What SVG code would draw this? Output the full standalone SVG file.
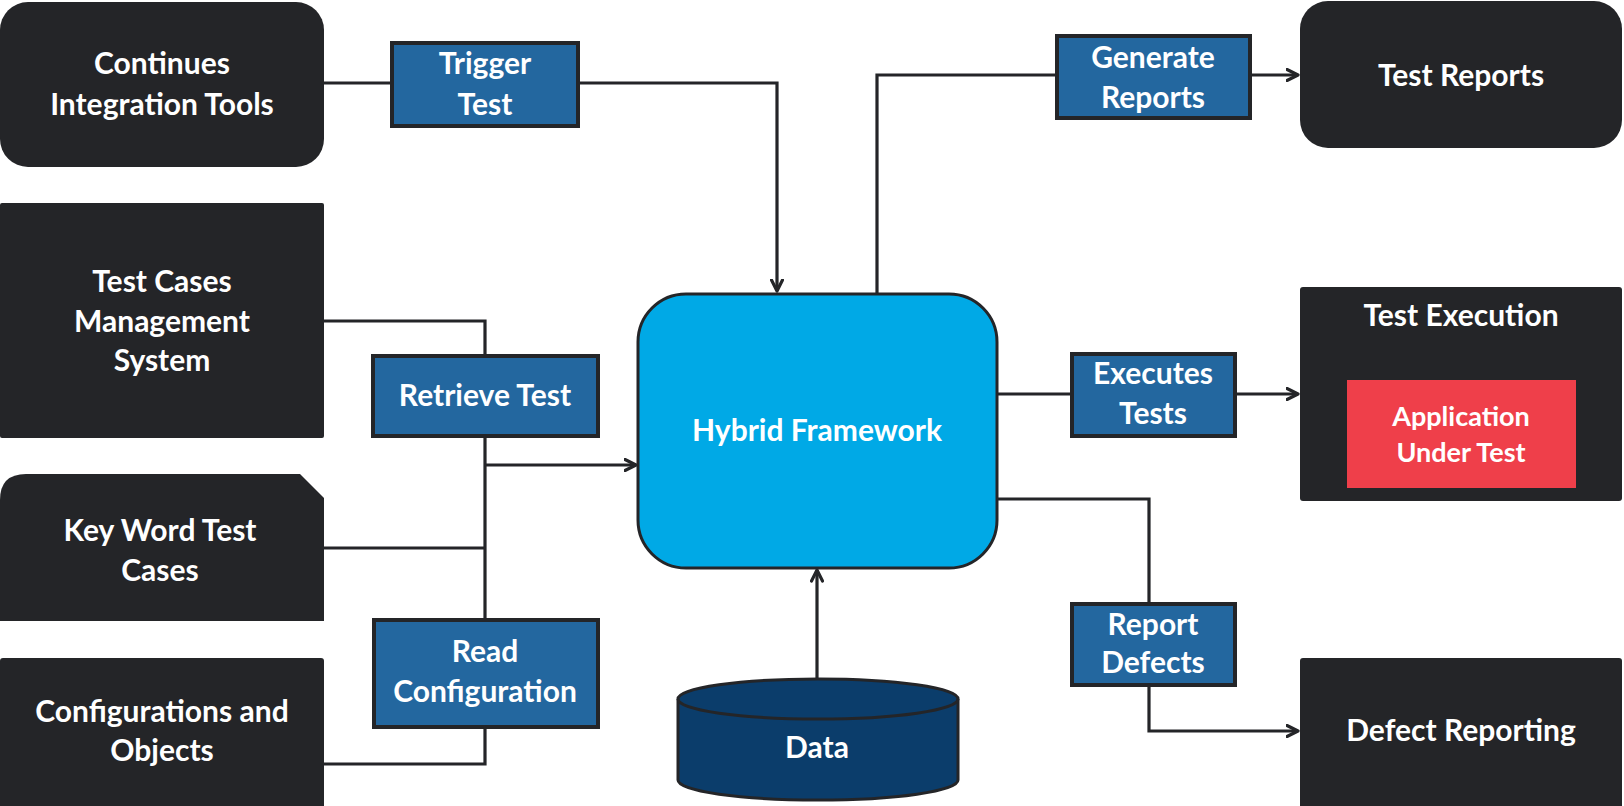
<svg xmlns="http://www.w3.org/2000/svg" width="1624" height="806" viewBox="0 0 1624 806">
<defs>
<marker id="arr" viewBox="0 0 14 14" refX="12.5" refY="7" markerWidth="14" markerHeight="14" markerUnits="userSpaceOnUse" orient="auto">
<path d="M1.5,1.5 L12.5,7 L1.5,12.5" fill="none" stroke="#242528" stroke-width="3.2" stroke-linecap="round" stroke-linejoin="round"/>
</marker>
<style>
.dark{fill:#242528;}
.lbl{fill:#23679F;stroke:#242528;stroke-width:4;}
.t{font-family:Lato,"Open Sans","Liberation Sans",sans-serif;font-weight:bold;font-size:30px;fill:#ffffff;text-anchor:middle;dominant-baseline:central;}
.s{font-size:27px;}
.c{fill:none;stroke:#242528;stroke-width:3.2;}
</style>
</defs>
<rect width="1624" height="806" fill="#ffffff"/>

<g id="connectors">
<polyline class="c" points="324,83 391,83"/>
<polyline class="c" points="578,83 777,83 777,291" marker-end="url(#arr)"/>
<polyline class="c" points="877,295 877,75 1056,75"/>
<polyline class="c" points="1250,75 1298,75" marker-end="url(#arr)"/>
<polyline class="c" points="324,321 485,321 485,355"/>
<polyline class="c" points="485,436 485,619"/>
<polyline class="c" points="485,465 636,465" marker-end="url(#arr)"/>
<polyline class="c" points="324,548 485,548"/>
<polyline class="c" points="485,727 485,764 324,764"/>
<polyline class="c" points="997,394 1071,394"/>
<polyline class="c" points="1235,394 1298,394" marker-end="url(#arr)"/>
<polyline class="c" points="997,499 1149,499 1149,603"/>
<polyline class="c" points="1149,685 1149,731 1298,731" marker-end="url(#arr)"/>
<polyline class="c" points="817,680 817,570" marker-end="url(#arr)"/>
</g>

<g id="ci-tools">
<rect class="dark" x="0" y="2" width="324" height="165" rx="28"/>
<text class="t" x="162" y="62">Continues</text>
<text class="t" x="162" y="103">Integration Tools</text>
</g>

<g id="trigger-test">
<rect class="lbl" x="392" y="43" width="186" height="83"/>
<text class="t" x="485" y="62">Trigger</text>
<text class="t" x="485" y="103">Test</text>
</g>

<g id="generate-reports">
<rect class="lbl" x="1057" y="36" width="193" height="82"/>
<text class="t" x="1153" y="56">Generate</text>
<text class="t" x="1153" y="96">Reports</text>
</g>

<g id="test-reports">
<rect class="dark" x="1300" y="1" width="322" height="147" rx="28"/>
<text class="t" x="1461" y="74">Test Reports</text>
</g>

<g id="test-cases-mgmt">
<rect class="dark" x="0" y="203" width="324" height="235" rx="2"/>
<text class="t" x="162" y="280">Test Cases</text>
<text class="t" x="162" y="320">Management</text>
<text class="t" x="162" y="359">System</text>
</g>

<g id="retrieve-test">
<rect class="lbl" x="373" y="356" width="225" height="80"/>
<text class="t" x="485" y="394">Retrieve Test</text>
</g>

<g id="hybrid-framework">
<rect x="638" y="294" width="359" height="274" rx="48" fill="#00A9E6" stroke="#242528" stroke-width="3"/>
<text class="t" x="817" y="429">Hybrid Framework</text>
</g>

<g id="test-execution">
<rect class="dark" x="1300" y="287" width="322" height="214" rx="3"/>
<text class="t" x="1461" y="314">Test Execution</text>
</g>

<g id="app-under-test">
<rect x="1347" y="380" width="229" height="108" fill="#EF3F4A"/>
<text class="t s" x="1461" y="415">Application</text>
<text class="t s" x="1461" y="451">Under Test</text>
</g>

<g id="executes-tests">
<rect class="lbl" x="1072" y="354" width="163" height="82"/>
<text class="t" x="1153" y="372">Executes</text>
<text class="t" x="1153" y="412">Tests</text>
</g>

<g id="keyword-test-cases">
<path class="dark" d="M0,500 Q0,474 26,474 L300,474 L324,498 L324,621 L0,621 Z"/>
<text class="t" x="160" y="529">Key Word Test</text>
<text class="t" x="160" y="569">Cases</text>
</g>

<g id="read-configuration">
<rect class="lbl" x="374" y="620" width="224" height="107"/>
<text class="t" x="485" y="650">Read</text>
<text class="t" x="485" y="690">Configuration</text>
</g>

<g id="report-defects">
<rect class="lbl" x="1072" y="604" width="163" height="81"/>
<text class="t" x="1153" y="623">Report</text>
<text class="t" x="1153" y="661">Defects</text>
</g>

<g id="defect-reporting">
<rect class="dark" x="1300" y="658" width="322" height="150" rx="3"/>
<text class="t" x="1461" y="729">Defect Reporting</text>
</g>

<g id="configurations">
<rect class="dark" x="0" y="658" width="324" height="150" rx="3"/>
<text class="t" x="162" y="710">Configurations and</text>
<text class="t" x="162" y="749">Objects</text>
</g>

<g id="data">
<path d="M678,699 L678,780 A140,20 0 0 0 958,780 L958,699 A140,20 0 0 0 678,699 Z" fill="#0B3D6B" stroke="#242528" stroke-width="3"/>
<path d="M678,699 A140,20 0 0 0 958,699" fill="none" stroke="#242528" stroke-width="3"/>
<text class="t" x="817" y="746">Data</text>
</g>
</svg>
